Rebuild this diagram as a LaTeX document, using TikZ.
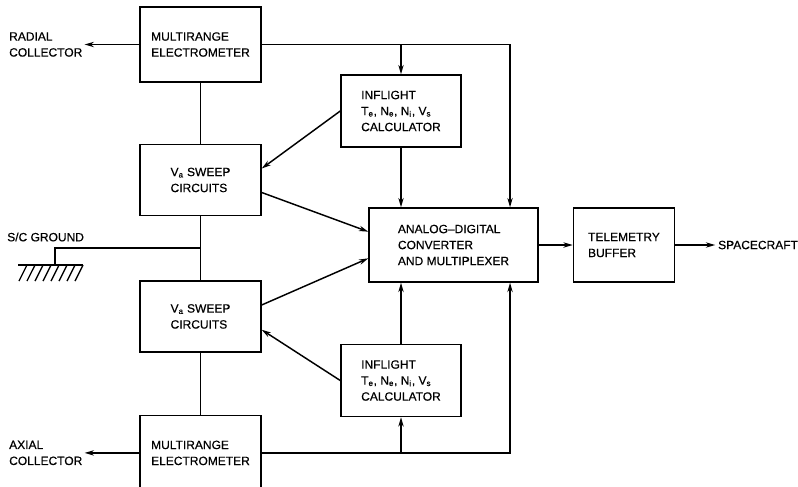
\documentclass[tikz,border=0pt]{standalone}
\usepackage{fontspec}
\setmainfont{Liberation Sans}[FakeBold=0.5]
\usetikzlibrary{positioning,arrows.meta,calc}

\begin{document}
\begin{tikzpicture}[
  x=0.75pt, y=-0.75pt,
  every node/.style={align=left, font=\fontsize{9}{12}\selectfont},
  blockbox/.style={draw, line width=1.1pt, inner sep=0pt},
  meterbox/.style={blockbox, minimum width=90.75pt, minimum height=56.25pt},
  sweepbox/.style={blockbox, minimum width=90.75pt, minimum height=53.25pt},
  calcbox/.style={blockbox, minimum width=90pt, minimum height=54pt},
  wire/.style={line width=1.1pt},
  arr/.style={wire, -{Stealth[length=7pt, width=4pt]}}
]
\useasboundingbox (0,0) rectangle (798,486);

% Left column
\node[meterbox] (metop) at (200.5,44.5) {MULTIRANGE\\ELECTROMETER};
\node[sweepbox, below=45.75pt of metop] (swtop) {V\textsubscript{a} SWEEP\\CIRCUITS};
\node[sweepbox, below=48pt of swtop] (swbot) {V\textsubscript{a} SWEEP\\CIRCUITS};
\node[meterbox, below=46.5pt of swbot] (mebot) {MULTIRANGE\\ELECTROMETER};

% Calculators
\node[calcbox] (calctop) at (401,111) {INFLIGHT\\T\textsubscript{e}, N\textsubscript{e}, N\textsubscript{i}, V\textsubscript{s}\\CALCULATOR};
\node[calcbox] (calcbot) at (401,380.5) {INFLIGHT\\T\textsubscript{e}, N\textsubscript{e}, N\textsubscript{i}, V\textsubscript{s}\\CALCULATOR};

% Converter and buffer
\node[blockbox, minimum width=126.75pt, minimum height=55.5pt] (adc) at (453.5,245) {ANALOG--DIGITAL\\CONVERTER\\AND MULTIPLEXER};
\node[blockbox, minimum width=75.75pt, minimum height=55.5pt, right=25.5pt of adc] (tbuf) {TELEMETRY\\BUFFER};
\node[inner sep=2pt, right=30pt of tbuf] (craft) {SPACECRAFT};

% Collector labels
\node[inner sep=1.5pt, left=41pt of metop] (radial) {RADIAL\\COLLECTOR};
\node[inner sep=1.5pt, left=41pt of mebot] (axial) {AXIAL\\COLLECTOR};
\node[anchor=west, inner sep=0pt] (gndlabel) at (7,237) {S/C GROUND};

% Vertical chain and ground
\draw[wire] (metop.south) -- (swtop.north);
\draw[wire] (swtop.south) -- (swbot.north);
\draw[wire] (swbot.south) -- (mebot.north);
\coordinate (gnd) at (55,265);
\draw[wire] ($(swtop.south)!0.5!(swbot.north)$) -| (gnd);
\draw[line width=1pt] ($(gnd)+(-37,0)$) -- ($(gnd)+(28,0)$);
\foreach \dx in {-28,-20,...,28}
  \draw[line width=1pt] ($(gnd)+(\dx,0)$) -- ++(-8,16);

% Collector outputs
\draw[arr] (metop.west) -- (radial.east |- metop.west);
\draw[arr] (mebot.west) -- (axial.east |- mebot.west);

% Electrometer feeds
\draw[arr] (metop.east) -| ([xshift=42.4pt]adc.north);
\draw[arr] (calctop.north |- metop.east) -- (calctop.north);
\draw[arr] (calctop.south) -- (calctop.south |- adc.north);
\draw[arr] (mebot.east) -| ([xshift=42.4pt]adc.south);
\draw[arr] (calcbot.south |- mebot.east) -- (calcbot.south);
\draw[arr] (calcbot.north) -- (calcbot.north |- adc.south);

% Sweep links
\draw[arr] (calctop.west) -- ([yshift=8.6pt]swtop.east);
\draw[arr] ([yshift=-9.4pt]swtop.east) -- ([yshift=10pt]adc.west);
\draw[arr] ([yshift=8.6pt]swbot.east) -- ([yshift=-10pt]adc.west);
\draw[arr] (calcbot.west) -- ([yshift=-10pt]swbot.east);

% Output path
\draw[arr] (adc.east) -- (tbuf.west);
\draw[arr] (tbuf.east) -- (craft.west);
\end{tikzpicture}
\end{document}
